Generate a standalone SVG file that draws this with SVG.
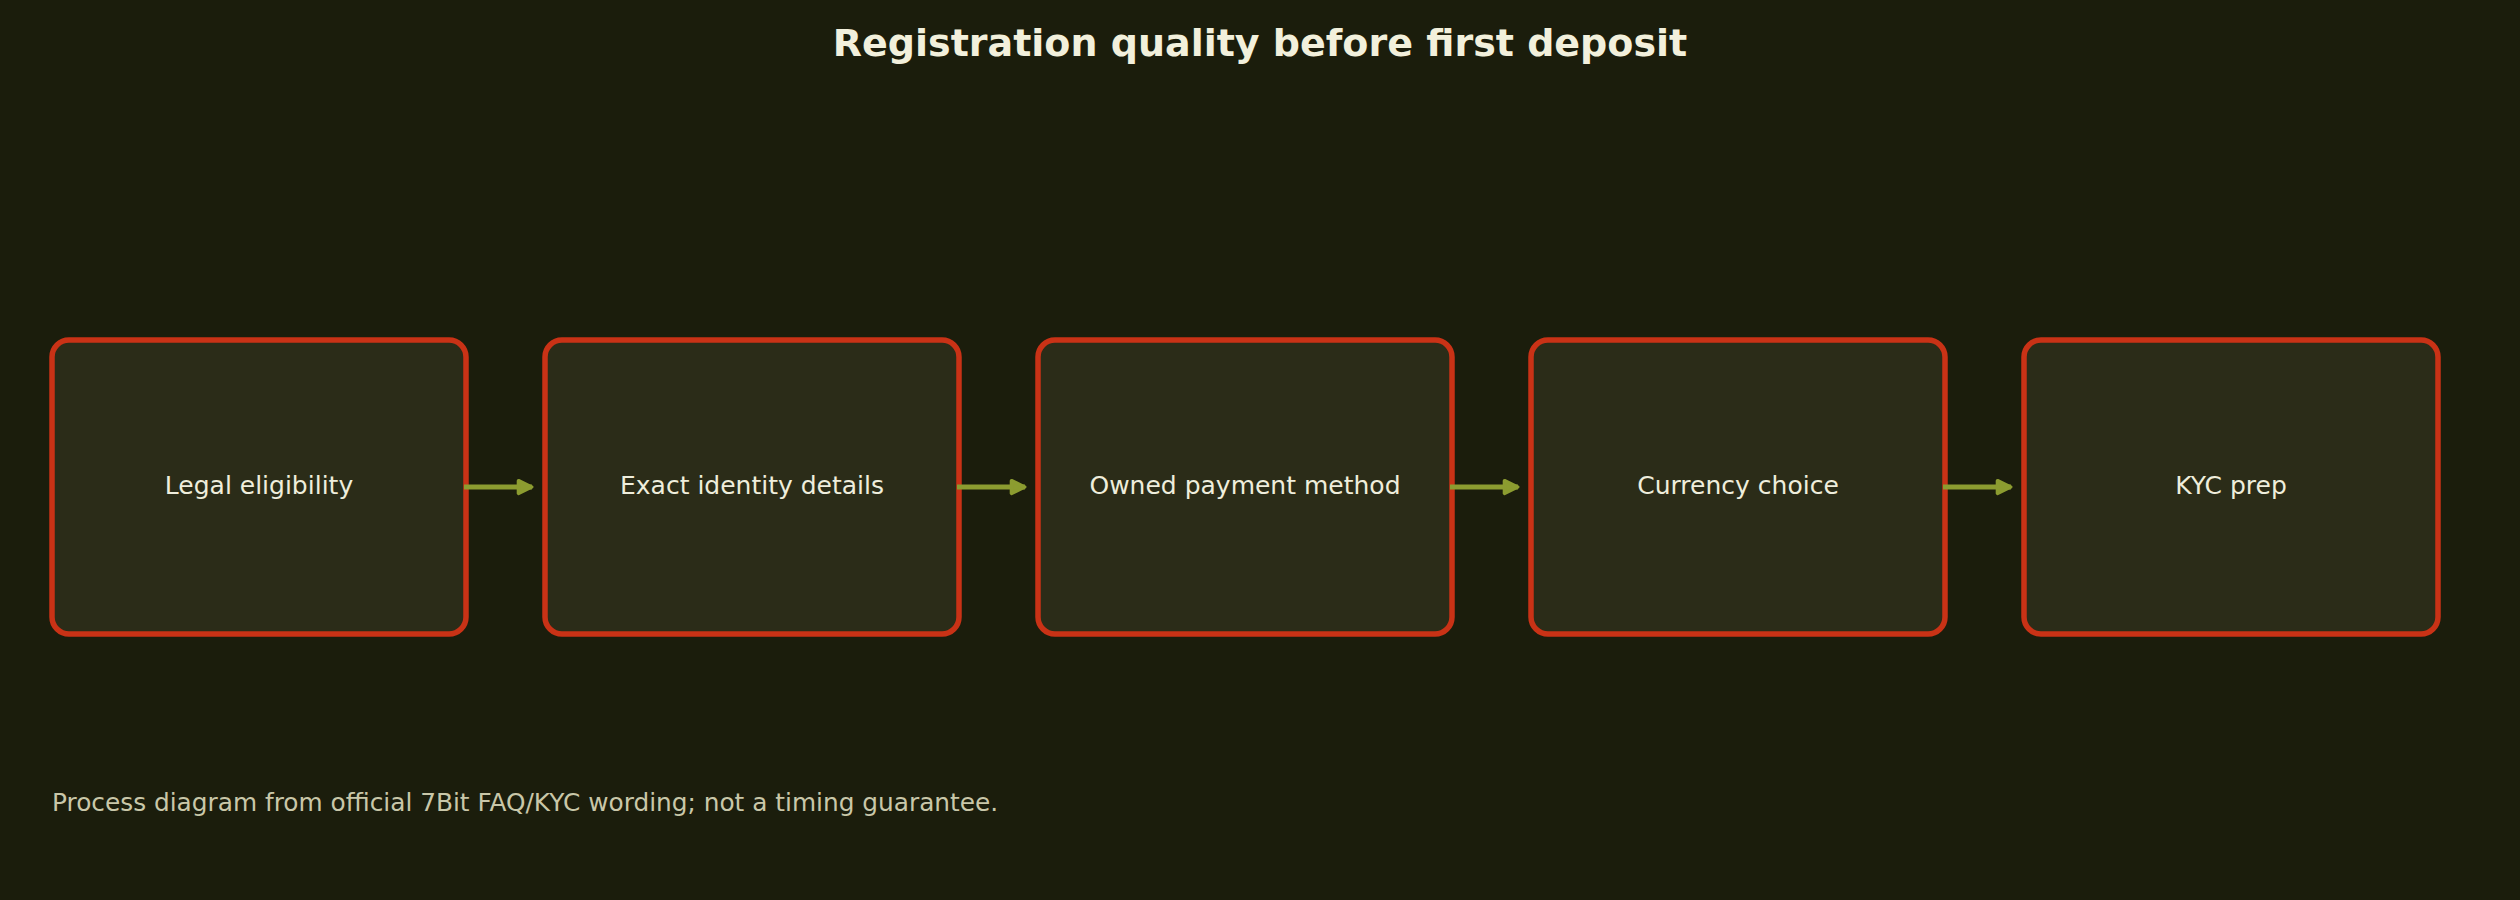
<svg xmlns="http://www.w3.org/2000/svg" width="2520" height="900" viewBox="0 0 2520 900">
<defs>
<style>
.bg{fill:#1b1d0c}
.node rect{fill:#2b2c18;stroke:#c93216;stroke-width:5.5}
.label{font-family:"DejaVu Sans","Liberation Sans",sans-serif;font-size:25px;fill:#efeedc;text-anchor:middle}
.title{font-family:"DejaVu Sans","Liberation Sans",sans-serif;font-size:38px;font-weight:bold;fill:#f2f0dc;text-anchor:middle}
.foot{font-family:"DejaVu Sans","Liberation Sans",sans-serif;font-size:24.8px;fill:#c9c7a9}
.conn line{stroke:#8c9c30;stroke-width:5;fill:none}
</style>
<marker id="ah" viewBox="0 0 10 10" refX="9" refY="5" markerWidth="18" markerHeight="18" markerUnits="userSpaceOnUse" orient="auto">
<path d="M1.5,1.5 L8.8,5 L1.5,8.5 z" fill="#8c9c30" stroke="#8c9c30" stroke-width="2" stroke-linejoin="round"/>
</marker>
</defs>
<rect class="bg" x="0" y="0" width="2520" height="900"/>
<text class="title" x="1260" y="56">Registration quality before first deposit</text>
<g id="n1" class="node"><rect x="52" y="340" width="414" height="294" rx="17"/><text class="label" x="259" y="494">Legal eligibility</text></g>
<g id="n2" class="node"><rect x="545" y="340" width="414" height="294" rx="17"/><text class="label" x="752" y="494">Exact identity details</text></g>
<g id="n3" class="node"><rect x="1038" y="340" width="414" height="294" rx="17"/><text class="label" x="1245" y="494">Owned payment method</text></g>
<g id="n4" class="node"><rect x="1531" y="340" width="414" height="294" rx="17"/><text class="label" x="1738" y="494">Currency choice</text></g>
<g id="n5" class="node"><rect x="2024" y="340" width="414" height="294" rx="17"/><text class="label" x="2231" y="494">KYC prep</text></g>
<g id="conn" class="conn">
<line x1="464" y1="487" x2="532" y2="487" marker-end="url(#ah)"/>
<line x1="957" y1="487" x2="1025" y2="487" marker-end="url(#ah)"/>
<line x1="1450" y1="487" x2="1518" y2="487" marker-end="url(#ah)"/>
<line x1="1943" y1="487" x2="2011" y2="487" marker-end="url(#ah)"/>
</g>
<text class="foot" x="52" y="811">Process diagram from official 7Bit FAQ/KYC wording; not a timing guarantee.</text>
</svg>
